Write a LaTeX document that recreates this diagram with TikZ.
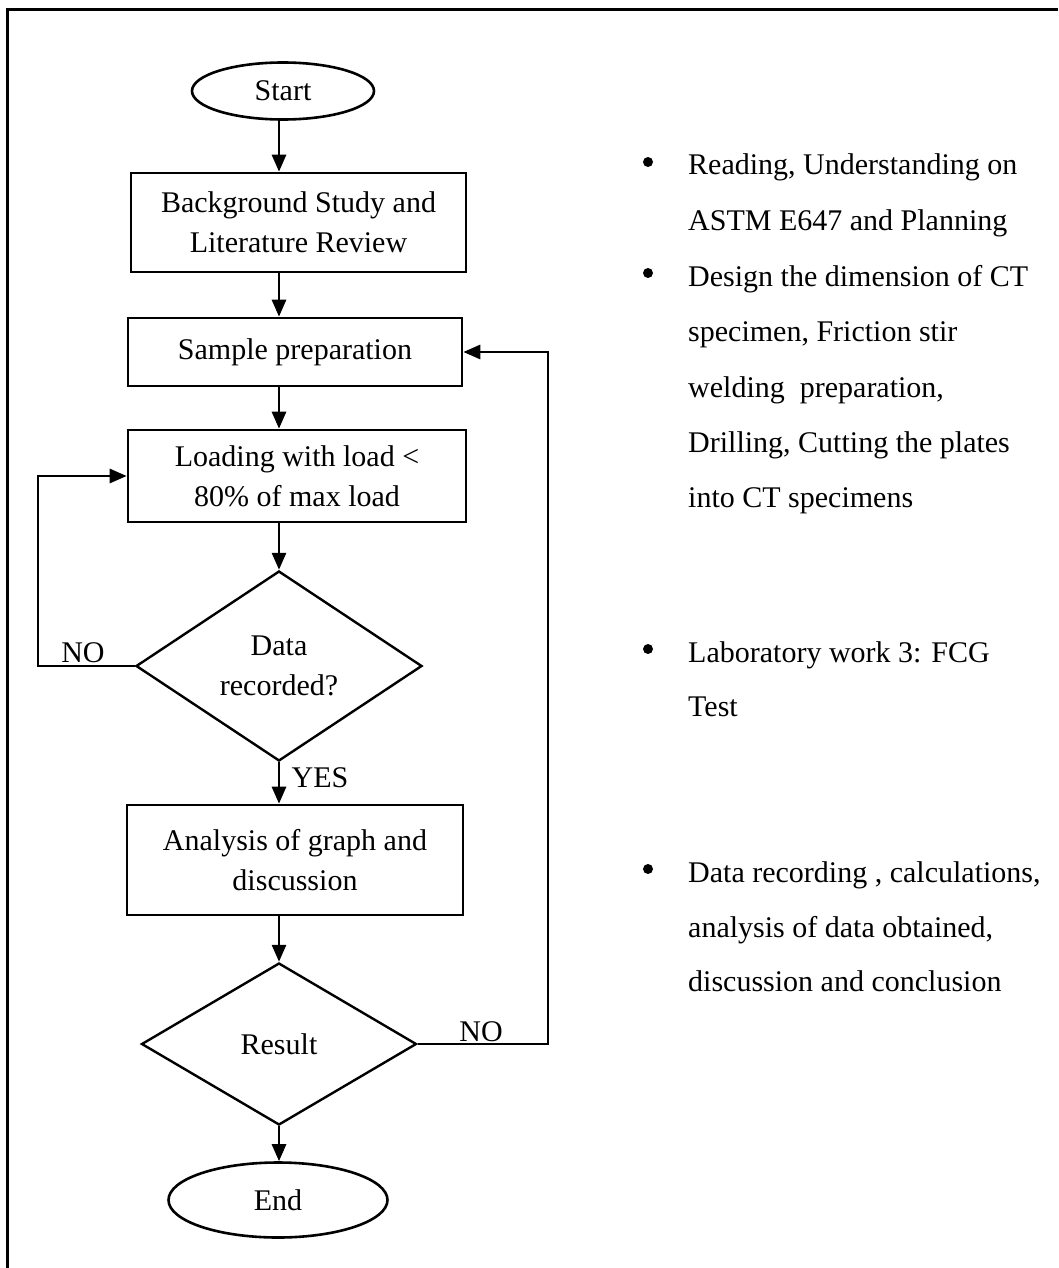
\documentclass[tikz,border=0pt]{standalone}
\usepackage{fontspec}
\setmainfont{Liberation Serif}
\usetikzlibrary{shapes.geometric,arrows.meta}
\begin{document}
\begin{tikzpicture}[x=1pt,y=-1pt,
  every node/.style={font=\fontsize{30}{40}\selectfont, inner sep=0pt},
  procbox/.style={draw, line width=2.6pt, rectangle, align=center},
  termnode/.style={draw, line width=2.6pt, ellipse},
  decnode/.style={draw, line width=2.4pt, diamond, align=center},
  arr/.style={line width=2.8pt, -{Triangle[length=17pt,width=14pt]}},
  bullettext/.style={anchor=base west, font=\fontsize{30}{36}\selectfont},
  bulletdot/.style={circle, fill, minimum size=10pt, inner sep=0pt}]
\useasboundingbox (0,0) rectangle (1058,1268);
% frame (cropped)
\draw[line width=3pt] (1058,10) -- (7,10) -- (7,1268);

\coordinate (col) at (279,0);
\coordinate (loopx) at (38,0);
\coordinate (fbx) at (548,0);

\node[termnode, minimum width=182pt, minimum height=57pt] (start) at (283,91) {Start};
\node[procbox, minimum width=335pt, minimum height=99pt] (bg) at (298.5,222.5) {Background Study and\\Literature Review};
\node[procbox, minimum width=334pt, minimum height=68pt] (samp) at (295,352) {Sample preparation};
\node[procbox, minimum width=338pt, minimum height=92pt] (load) at (297,476) {Loading with load <\\80\% of max load};
\node[decnode, minimum width=286pt, minimum height=190pt] (data) at (279,666) {Data\\recorded?};
\node[procbox, minimum width=336pt, minimum height=110pt] (ana) at (295,860) {Analysis of graph and\\discussion};
\node[decnode, minimum width=275pt, minimum height=162pt] (res) at (279,1044) {Result};
\node[termnode, minimum width=219pt, minimum height=75pt] (end) at (278,1200) {End};

\draw[arr] (start.south -| col) -- (bg.north -| col);
\draw[arr] (bg.south -| col) -- (samp.north -| col);
\draw[arr] (samp.south -| col) -- (load.north -| col);
\draw[arr] (load.south -| col) -- (data.north);
\draw[arr] (data.south) -- (ana.north -| col);
\draw[arr] (ana.south -| col) -- (res.north);
\draw[arr] (res.south) -- (end.north -| col);

\draw[arr] (data.west) -- (data.west -| loopx) |- (load.west);
\draw[arr] (res.east) -- (res.east -| fbx) |- (samp.east);

\node (no1) at (83,653) {NO};
\node (yes) at (320,778) {YES};
\node (no2) at (481,1032) {NO};

% right-hand notes
\node[bulletdot] (b1) at (648,162) {};
\node[bullettext] (t1a) at (688,175) {Reading, Understanding on};
\node[bullettext] (t1b) at (688,230) {ASTM E647 and Planning};
\node[bulletdot] (b2) at (648,273) {};
\node[bullettext] (t2a) at (688,286) {Design the dimension of CT};
\node[bullettext] (t2b) at (688,341) {specimen, Friction stir};
\node[bullettext] (t2c) at (688,397) {welding\ \ preparation,};
\node[bullettext] (t2d) at (688,452) {Drilling, Cutting the plates};
\node[bullettext] (t2e) at (688,507) {into CT specimens};
\node[bulletdot] (b3) at (648,649) {};
\node[bullettext] (t3a) at (688,662) {Laboratory work 3: FCG};
\node[bullettext] (t3b) at (688,716) {Test};
\node[bulletdot] (b4) at (648,869) {};
\node[bullettext] (t4a) at (688,882) {Data recording , calculations,};
\node[bullettext] (t4b) at (688,937) {analysis of data obtained,};
\node[bullettext] (t4c) at (688,991) {discussion and conclusion};
\end{tikzpicture}
\end{document}
